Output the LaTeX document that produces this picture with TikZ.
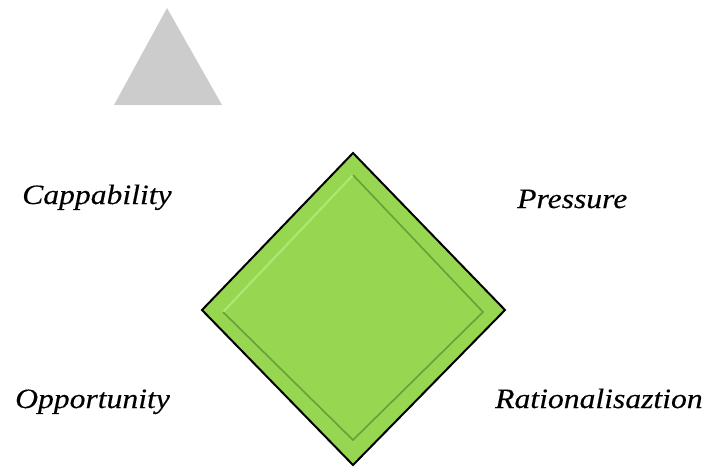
\documentclass[tikz,border=0pt]{standalone}
\usepackage{fontspec}
\newfontfamily\labfont[FakeStretch=1.13,FakeBold=0.25]{Liberation Serif}
\definecolor{dgreen}{HTML}{96D650}
\definecolor{lgreen}{HTML}{AEE672}
\definecolor{sgreen}{HTML}{68A038}
\definecolor{tgrey}{HTML}{CCCCCC}
\tikzset{
  lab/.style={anchor=base west, inner sep=0pt, font=\labfont\itshape\fontsize{28}{30}\selectfont},
}
\begin{document}
\begin{tikzpicture}[x=1pt,y=-1pt]
\useasboundingbox (0,0) rectangle (708,467);
% triangle
\coordinate (ta) at (167,8);
\coordinate (tl) at (114,105);
\coordinate (tr) at (222,105);
\fill[tgrey] (ta) -- (tr) -- (tl) -- cycle;
% outer diamond
\coordinate (ot) at (353,153);
\coordinate (or) at (505,310);
\coordinate (ob) at (353,465);
\coordinate (ol) at (202,310);
\filldraw[fill=dgreen, draw=black, line width=2pt, line join=miter] (ot) -- (or) -- (ob) -- (ol) -- cycle;
% inner diamond
\coordinate (it) at (353,175);
\coordinate (ir) at (483,312);
\coordinate (ib) at (353,440);
\coordinate (il) at (223,312);
\fill[dgreen] (it) -- (ir) -- (ib) -- (il) -- cycle;
\draw[lgreen, line width=2.2pt] (il) -- (it);
\draw[sgreen, line width=1.6pt] (it) -- (ir) -- (ib) -- (il);
% labels
\node[lab] (cap) at (22,204) {Cappability};
\node[lab] (pre) at (517,208) {Pressure};
\node[lab] (opp) at (15,408) {Opportunity};
\node[lab] (rat) at (495,408) {Rationalisaztion};
\end{tikzpicture}
\end{document}
